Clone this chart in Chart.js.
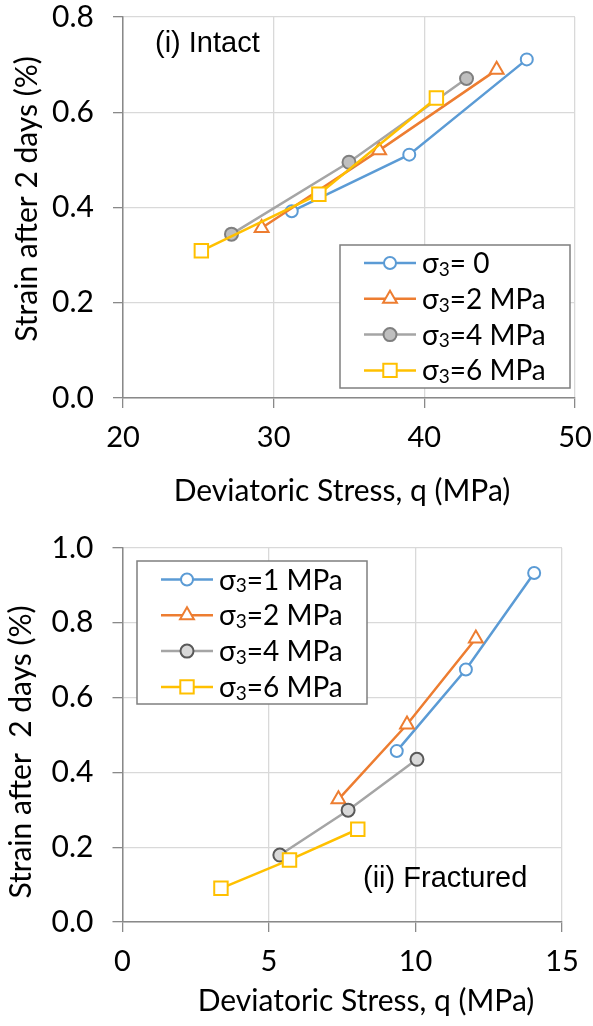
<!DOCTYPE html>
<html>
<head>
<meta charset="utf-8">
<script src="https://cdn.jsdelivr.net/npm/chart.js@4"></script>
<style>
  body { margin: 0; background: #fff; }
  canvas { position: absolute; left: 0; }
  #intactGraph { top: 0; }
  #fracturedGraph { top: 510px; }
</style>
</head>
<body>
<canvas id="intactGraph" width="593" height="510"></canvas>
<canvas id="fracturedGraph" width="593" height="516"></canvas>
<script>
// (i) Intact: deviatoric stress q (MPa) vs strain after 2 days (%)
const intactLabels = ['σ₃= 0', 'σ₃=2 MPa', 'σ₃=4 MPa', 'σ₃=6 MPa'];
const intactQ = [
  [31.2, 39.0, 46.8],
  [29.2, 37.0, 44.8],
  [27.2, 35.0, 42.8],
  [25.2, 33.0, 40.8]
];
const intactStrain = [
  [0.392, 0.511, 0.711],
  [0.357, 0.520, 0.689],
  [0.344, 0.495, 0.671],
  [0.309, 0.428, 0.630]
];
const intactXTicks = [20, 30, 40, 50];
const intactYTicks = [0.0, 0.2, 0.4, 0.6, 0.8];

// (ii) Fractured
const fracLabels = ['σ₃=1 MPa', 'σ₃=2 MPa', 'σ₃=4 MPa', 'σ₃=6 MPa'];
const fracQ = [
  [9.36, 11.72, 14.05],
  [7.37, 9.71, 12.06],
  [5.37, 7.70, 10.05],
  [3.36, 5.70, 8.03]
];
const fracStrain = [
  [0.457, 0.675, 0.933],
  [0.328, 0.528, 0.758],
  [0.179, 0.299, 0.435],
  [0.090, 0.166, 0.248]
];
const fracXTicks = [0, 5, 10, 15];
const fracYTicks = [0.0, 0.2, 0.4, 0.6, 0.8, 1.0];

const FONT = "Lato, 'Noto Sans', sans-serif";
const GRID = '#d9d9d9';
const AXIS = '#898989';

const styles = [
  { line: '#5b9bd5', fill: '#ffffff', border: '#5b9bd5', shape: 'circle', r: 6 },
  { line: '#ed7d31', fill: '#ffffff', border: '#ed7d31', shape: 'triangle', r: 8 },
  { line: '#a5a5a5', fill: '#bfbfbf', border: '#7f7f7f', shape: 'circle', r: 6.5 },
  { line: '#ffc000', fill: '#ffffff', border: '#ffc000', shape: 'rect', r: 9.5 }
];

function makeDatasets(labels, qs, strains, grayFill, grayBorder) {
  return labels.map((label, i) => {
    const s = styles[i];
    return {
      label: label,
      data: qs[i].map((q, j) => ({ x: q, y: strains[i][j] })),
      showLine: true,
      borderColor: s.line,
      borderWidth: 2.5,
      pointStyle: s.shape,
      pointRadius: s.r,
      pointHoverRadius: s.r,
      pointBackgroundColor: i === 2 ? grayFill : s.fill,
      pointBorderColor: i === 2 ? grayBorder : s.border,
      pointBorderWidth: 2,
      order: labels.length - i
    };
  });
}

// text with the subscript 3 drawn as a smaller, lowered digit (like the original)
function drawSubText(ctx, text, x, y, size) {
  let cx = x;
  for (const part of text.split(/(₃)/)) {
    if (!part) continue;
    if (part === '₃') {
      ctx.font = `${Math.round(size * 0.68)}px ${FONT}`;
      ctx.fillText('3', cx, y + size * 0.2);
    } else {
      ctx.font = `${size}px ${FONT}`;
      ctx.fillText(part, cx, y);
    }
    cx += ctx.measureText(part === '₃' ? '3' : part).width;
  }
}

// legend box, panel caption and axis titles
const boxLegend = {
  id: 'boxLegend',
  afterDraw(chart, args, opts) {
    const ctx = chart.ctx;
    ctx.save();
    ctx.fillStyle = '#fff';
    ctx.fillRect(opts.x, opts.y, opts.w, opts.h);
    ctx.strokeStyle = '#7f7f7f';
    ctx.lineWidth = 1.5;
    ctx.strokeRect(opts.x, opts.y, opts.w, opts.h);
    chart.data.datasets.forEach((ds, i) => {
      const y = opts.y + opts.rowTop + i * opts.rowGap;
      ctx.strokeStyle = ds.borderColor;
      ctx.lineWidth = ds.borderWidth;
      ctx.beginPath();
      ctx.moveTo(opts.lineX, y);
      ctx.lineTo(opts.lineX + opts.lineW, y);
      ctx.stroke();
      ctx.fillStyle = ds.pointBackgroundColor;
      ctx.strokeStyle = ds.pointBorderColor;
      ctx.lineWidth = ds.pointBorderWidth;
      Chart.helpers.drawPoint(ctx, {
        pointStyle: ds.pointStyle, radius: ds.pointRadius,
        borderWidth: ds.pointBorderWidth, rotation: 0
      }, opts.lineX + opts.lineW / 2, y);
      ctx.fillStyle = '#000';
      ctx.textAlign = 'left';
      ctx.textBaseline = 'middle';
      drawSubText(ctx, ds.label, opts.textX, y + 1, opts.fontSize);
    });

    ctx.fillStyle = '#000';
    ctx.textBaseline = 'middle';
    ctx.font = "29px 'Liberation Sans', Arial, sans-serif";
    ctx.textAlign = 'left';
    ctx.fillText(opts.caption, opts.capX, opts.capY);

    ctx.font = `30px ${FONT}`;
    ctx.textAlign = 'center';
    ctx.fillText(opts.xTitle, opts.xTitleX, opts.xTitleY);
    ctx.translate(opts.yTitleX, opts.yTitleY);
    ctx.rotate(-Math.PI / 2);
    ctx.fillText(opts.yTitle, 0, 0);
    ctx.restore();
  }
};

// keep label overflow from pushing the plot area around; layout.padding sets it
function fixSize(scale, w, h) {
  if (w !== null) scale.width = w;
  if (h !== null) scale.height = h;
  scale.paddingTop = 0;
  scale.paddingBottom = 0;
  scale.paddingLeft = 0;
  scale.paddingRight = 0;
}

function makeOptions(xTicks, yTicks, pad, yWidth, xHeight, legend) {
  return {
    responsive: false,
    animation: false,
    layout: { padding: pad },
    plugins: {
      legend: { display: false },
      tooltip: { enabled: false },
      boxLegend: legend
    },
    scales: {
      x: {
        type: 'linear',
        min: xTicks[0],
        max: xTicks[xTicks.length - 1],
        afterFit: (scale) => fixSize(scale, null, xHeight),
        afterBuildTicks: (scale) => { scale.ticks = xTicks.map(v => ({ value: v })); },
        ticks: { color: '#000', padding: 12, font: { family: FONT, size: 29 } },
        grid: { color: GRID, lineWidth: 1.3, tickColor: AXIS, tickLength: 10 },
        border: { color: AXIS, width: 1.5 }
      },
      y: {
        type: 'linear',
        min: yTicks[0],
        max: yTicks[yTicks.length - 1],
        afterFit: (scale) => fixSize(scale, yWidth, null),
        afterBuildTicks: (scale) => { scale.ticks = yTicks.map(v => ({ value: v })); },
        ticks: {
          color: '#000', padding: 19, font: { family: FONT, size: 30 },
          callback: (v) => v.toFixed(1)
        },
        grid: { color: GRID, lineWidth: 1.3, tickColor: AXIS, tickLength: 10 },
        border: { color: AXIS, width: 1.5 }
      }
    }
  };
}

new Chart(document.getElementById('intactGraph'), {
  type: 'scatter',
  data: { datasets: makeDatasets(intactLabels, intactQ, intactStrain, '#bfbfbf', '#7f7f7f') },
  options: makeOptions(intactXTicks, intactYTicks,
    { left: 0, right: 18, top: 17, bottom: 0 }, 123, 112,
    { x: 340, y: 245, w: 230, h: 143, rowTop: 18, rowGap: 35.8, lineX: 364, lineW: 52, textX: 422,
      fontSize: 28, caption: '(i) Intact', capX: 155, capY: 44,
      xTitle: 'Deviatoric Stress, q (MPa)', xTitleX: 342, xTitleY: 491,
      yTitle: 'Strain after 2 days (%)', yTitleX: 27, yTitleY: 199 }),
  plugins: [boxLegend]
});

new Chart(document.getElementById('fracturedGraph'), {
  type: 'scatter',
  data: { datasets: makeDatasets(fracLabels, fracQ, fracStrain, '#d9d9d9', '#595959') },
  options: makeOptions(fracXTicks, fracYTicks,
    { left: 0, right: 31, top: 38, bottom: 0 }, 122.5, 104,
    { x: 137, y: 51, w: 230, h: 143, rowTop: 18.5, rowGap: 35.8, lineX: 161, lineW: 52, textX: 219,
      fontSize: 28, caption: '(ii) Fractured', capX: 363, capY: 369,
      xTitle: 'Deviatoric Stress, q (MPa)', xTitleX: 366, xTitleY: 491,
      yTitle: 'Strain after  2 days (%)', yTitleX: 21, yTitleY: 242 }),
  plugins: [boxLegend]
});
</script>
</body>
</html>
